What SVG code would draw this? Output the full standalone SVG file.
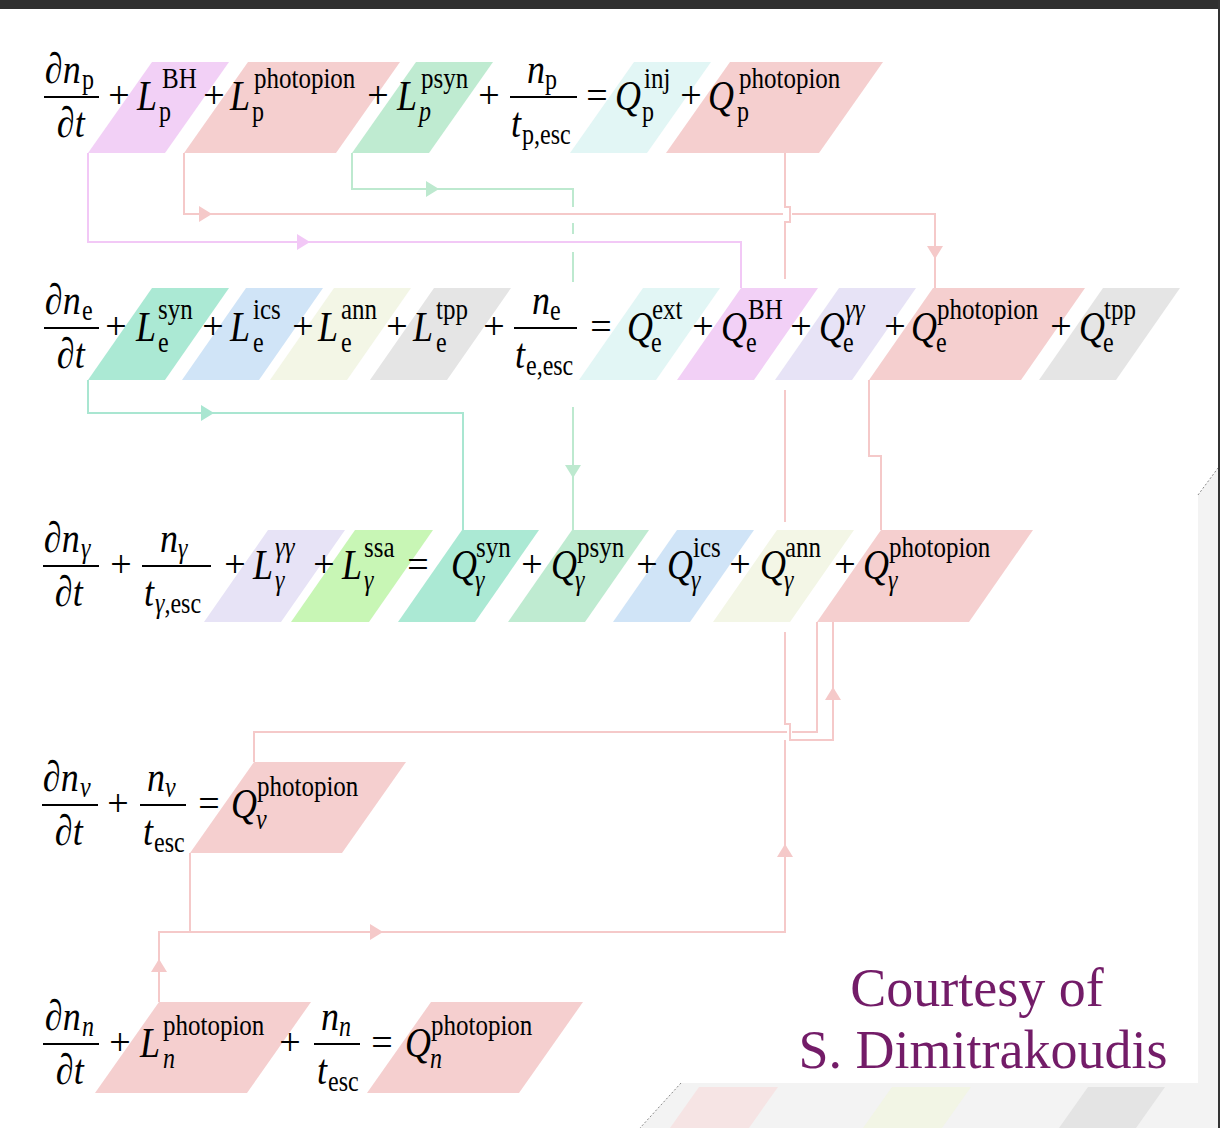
<svg xmlns="http://www.w3.org/2000/svg" xmlns:xlink="http://www.w3.org/1999/xlink" width="1220" height="1128" viewBox="0 0 1220 1128" font-family="Liberation Serif, serif">
  <style>
    .m { font-family: 'Liberation Serif', serif; font-size: 36px; font-style: italic; fill: #000; }
    .op { font-family: 'Liberation Serif', serif; font-size: 38px; font-style: normal; text-anchor: middle; fill: #000; }
    .s { font-family: 'Liberation Serif', serif; font-size: 25px; font-style: normal; }
    .si { font-family: 'Liberation Serif', serif; font-size: 25px; font-style: italic; }
    .b { font-family: 'Liberation Serif', serif; font-size: 24px; font-style: normal; }
    .bi { font-family: 'Liberation Serif', serif; font-size: 24px; font-style: italic; }
    .bar { stroke: #000; stroke-width: 2; }
    .credit { font-family: 'Liberation Serif', serif; font-size: 54px; fill: #731c68; text-anchor: middle; }
    .c-bh { fill: #f2d0f6; }
    .c-pp { fill: #f5cfcf; }
    .c-psyn { fill: #bfebd1; }
    .c-inj { fill: #e2f6f5; }
    .c-syn { fill: #abe9d4; }
    .c-ics { fill: #d0e4f7; }
    .c-ann { fill: #f3f6e6; }
    .c-tpp { fill: #e5e5e5; }
    .c-gg { fill: #e7e3f6; }
    .c-ssa { fill: #c8f6b5; }
    .k { fill: none; stroke-width: 2; }
    .k-pp { stroke: #f5c9c9; }
    .k-bh { stroke: #f2c8f6; }
    .k-psyn { stroke: #bde9cf; }
    .k-syn { stroke: #a9e6d1; }
    .a-pp { fill: #f5c9c9; }
    .a-bh { fill: #f2c8f6; }
    .a-psyn { fill: #bde9cf; }
    .a-syn { fill: #a9e6d1; }
  </style>
  <defs>
    <path id="ah" d="M-6,-8 L7,0 L-6,8 Z"/>
  </defs>

  <!-- slide background and frame -->
  <rect x="0" y="0" width="1220" height="1128" fill="#ffffff"/>
  <polygon points="1218,468 1198,495 1198,1083 681,1083 640,1128 1218,1128" fill="#f3f3f3"/>
  <polygon points="699,1087 778,1087 749,1128 670,1128" fill="#f6e4e4"/>
  <polygon points="892,1087 971,1087 942,1128 863,1128" fill="#f2f5e5"/>
  <polygon points="1088,1087 1165,1087 1136,1128 1059,1128" fill="#e4e4e4"/>
  <line x1="1198" y1="495" x2="1218" y2="468" stroke="#8a8a8a" stroke-width="1" stroke-dasharray="2,2"/>
  <line x1="681" y1="1083" x2="640" y2="1128" stroke="#8a8a8a" stroke-width="1" stroke-dasharray="2,2"/>
  <rect x="0" y="0" width="1220" height="9" fill="#2f2f2f"/>
  <rect x="1218" y="0" width="2" height="1128" fill="#333333"/>

  <!-- connectors -->
  <g id="connectors">
    <path class="k k-bh" d="M88,153 V242 H741 V288"/>
    <path class="k k-pp" d="M184,153 V214 H783 M792,214 H935 V288"/>
    <path class="k k-pp" d="M785,153 V207 H790 V222 H785 V279"/>
    <path class="k k-psyn" d="M352,153 V189 H573 V207 M573,223 V234 M573,252 V282 M573,407 V530"/>
    <path class="k k-syn" d="M88,380 V413 H463 V530"/>
    <path class="k k-pp" d="M869,380 V456 H881 V530"/>
    <path class="k k-pp" d="M785,390 V522 M785,632 V724 H790 V740 H833 V622"/>
    <path class="k k-pp" d="M785,740 V932 H159 V1002 M190,853 V932"/>
    <path class="k k-pp" d="M817,622 V732 H792 M787,732 H254 V762"/>
    <use xlink:href="#ah" class="a-bh" transform="translate(303,242)"/>
    <use xlink:href="#ah" class="a-pp" transform="translate(205,214)"/>
    <use xlink:href="#ah" class="a-pp" transform="translate(935,252) rotate(90)"/>
    <use xlink:href="#ah" class="a-psyn" transform="translate(432,189)"/>
    <use xlink:href="#ah" class="a-psyn" transform="translate(573,471) rotate(90)"/>
    <use xlink:href="#ah" class="a-syn" transform="translate(207,413)"/>
    <use xlink:href="#ah" class="a-pp" transform="translate(785,851) rotate(-90)"/>
    <use xlink:href="#ah" class="a-pp" transform="translate(833,694) rotate(-90)"/>
    <use xlink:href="#ah" class="a-pp" transform="translate(159,966) rotate(-90)"/>
    <use xlink:href="#ah" class="a-pp" transform="translate(376,932)"/>
  </g>

  <!-- proton terms -->
  <g id="Lp-BH">
    <polygon class="c-bh" points="88,153 165,153 229,62 152,62"/>
    <text class="m" transform="matrix(1 0 0 1.2 137 110)">L<tspan class="s" x="25" y="-18">BH</tspan><tspan class="b" x="22" y="9.5">p</tspan></text>
  </g>
  <g id="Lp-photopion">
    <polygon class="c-pp" points="184,153 336,153 400,62 248,62"/>
    <text class="m" transform="matrix(1 0 0 1.2 230 110)">L<tspan class="s" x="24" y="-18">photopion</tspan><tspan class="b" x="22" y="9.5">p</tspan></text>
  </g>
  <g id="Lp-psyn">
    <polygon class="c-psyn" points="352,153 429,153 493,62 416,62"/>
    <text class="m" transform="matrix(1 0 0 1.2 397 110)">L<tspan class="s" x="24" y="-18">psyn</tspan><tspan class="bi" x="22" y="9.5">p</tspan></text>
  </g>
  <g id="Qp-inj">
    <polygon class="c-inj" points="570,153 647,153 711,62 634,62"/>
    <text class="m" transform="matrix(1 0 0 1.2 615 110)">Q<tspan class="s" x="29" y="-18">inj</tspan><tspan class="b" x="27" y="9.5">p</tspan></text>
  </g>
  <g id="Qp-photopion">
    <polygon class="c-pp" points="666,153 819,153 883,62 730,62"/>
    <text class="m" transform="matrix(1 0 0 1.2 708 110)">Q<tspan class="s" x="31" y="-18">photopion</tspan><tspan class="b" x="29" y="9.5">p</tspan></text>
  </g>

  <!-- electron terms -->
  <g id="Le-syn">
    <polygon class="c-syn" points="88,380 165,380 229,288 152,288"/>
    <text class="m" transform="matrix(1 0 0 1.2 136 341)">L<tspan class="s" x="22" y="-18">syn</tspan><tspan class="b" x="22" y="9.5">e</tspan></text>
  </g>
  <g id="Le-ics">
    <polygon class="c-ics" points="182,380 259,380 323,288 246,288"/>
    <text class="m" transform="matrix(1 0 0 1.2 230 341)">L<tspan class="s" x="23" y="-18">ics</tspan><tspan class="b" x="23" y="9.5">e</tspan></text>
  </g>
  <g id="Le-ann">
    <polygon class="c-ann" points="270,380 347,380 411,288 334,288"/>
    <text class="m" transform="matrix(1 0 0 1.2 318 341)">L<tspan class="s" x="23" y="-18">ann</tspan><tspan class="b" x="23" y="9.5">e</tspan></text>
  </g>
  <g id="Le-tpp">
    <polygon class="c-tpp" points="370,380 447,380 511,288 434,288"/>
    <text class="m" transform="matrix(1 0 0 1.2 413 341)">L<tspan class="s" x="23" y="-18">tpp</tspan><tspan class="b" x="23" y="9.5">e</tspan></text>
  </g>
  <g id="Qe-ext">
    <polygon class="c-inj" points="579,380 656,380 720,288 643,288"/>
    <text class="m" transform="matrix(1 0 0 1.2 627 341)">Q<tspan class="s" x="25" y="-18">ext</tspan><tspan class="b" x="24" y="9.5">e</tspan></text>
  </g>
  <g id="Qe-BH">
    <polygon class="c-bh" points="677,380 754,380 818,288 741,288"/>
    <text class="m" transform="matrix(1 0 0 1.2 721 341)">Q<tspan class="s" x="27" y="-18">BH</tspan><tspan class="b" x="25" y="9.5">e</tspan></text>
  </g>
  <g id="Qe-gg">
    <polygon class="c-gg" points="775,380 852,380 916,288 839,288"/>
    <text class="m" transform="matrix(1 0 0 1.2 819 341)">Q<tspan class="si" x="26" y="-18">γγ</tspan><tspan class="b" x="24" y="9.5">e</tspan></text>
  </g>
  <g id="Qe-photopion">
    <polygon class="c-pp" points="869,380 1021,380 1085,288 933,288"/>
    <text class="m" transform="matrix(1 0 0 1.2 911 341)">Q<tspan class="s" x="26" y="-18">photopion</tspan><tspan class="b" x="25" y="9.5">e</tspan></text>
  </g>
  <g id="Qe-tpp">
    <polygon class="c-tpp" points="1039,380 1116,380 1180,288 1103,288"/>
    <text class="m" transform="matrix(1 0 0 1.2 1079 341)">Q<tspan class="s" x="25" y="-18">tpp</tspan><tspan class="b" x="24" y="9.5">e</tspan></text>
  </g>

  <!-- photon terms -->
  <g id="Lg-gg">
    <polygon class="c-gg" points="204,622 281,622 345,530 268,530"/>
    <text class="m" transform="matrix(1 0 0 1.2 253 579)">L<tspan class="si" x="22" y="-18">γγ</tspan><tspan class="bi" x="22" y="9.5">γ</tspan></text>
  </g>
  <g id="Lg-ssa">
    <polygon class="c-ssa" points="291,622 369,622 433,530 355,530"/>
    <text class="m" transform="matrix(1 0 0 1.2 342 579)">L<tspan class="s" x="22" y="-18">ssa</tspan><tspan class="bi" x="22" y="9.5">γ</tspan></text>
  </g>
  <g id="Qg-syn">
    <polygon class="c-syn" points="398,622 475,622 539,530 462,530"/>
    <text class="m" transform="matrix(1 0 0 1.2 451 579)">Q<tspan class="s" x="25" y="-18">syn</tspan><tspan class="bi" x="24" y="9.5">γ</tspan></text>
  </g>
  <g id="Qg-psyn">
    <polygon class="c-psyn" points="508,622 585,622 649,530 572,530"/>
    <text class="m" transform="matrix(1 0 0 1.2 551 579)">Q<tspan class="s" x="26" y="-18">psyn</tspan><tspan class="bi" x="24" y="9.5">γ</tspan></text>
  </g>
  <g id="Qg-ics">
    <polygon class="c-ics" points="613,622 690,622 754,530 677,530"/>
    <text class="m" transform="matrix(1 0 0 1.2 667 579)">Q<tspan class="s" x="26" y="-18">ics</tspan><tspan class="bi" x="24" y="9.5">γ</tspan></text>
  </g>
  <g id="Qg-ann">
    <polygon class="c-ann" points="713,622 790,622 854,530 777,530"/>
    <text class="m" transform="matrix(1 0 0 1.2 760 579)">Q<tspan class="s" x="25" y="-18">ann</tspan><tspan class="bi" x="24" y="9.5">γ</tspan></text>
  </g>
  <g id="Qg-photopion">
    <polygon class="c-pp" points="817,622 969,622 1033,530 881,530"/>
    <text class="m" transform="matrix(1 0 0 1.2 863 579)">Q<tspan class="s" x="26" y="-18">photopion</tspan><tspan class="bi" x="25" y="9.5">γ</tspan></text>
  </g>

  <!-- neutrino and neutron terms -->
  <g id="Qnu-photopion">
    <polygon class="c-pp" points="190,853 342,853 406,762 254,762"/>
    <text class="m" transform="matrix(1 0 0 1.2 231 818)">Q<tspan class="s" x="26" y="-18">photopion</tspan><tspan class="bi" x="25" y="9.5">ν</tspan></text>
  </g>
  <g id="Ln-photopion">
    <polygon class="c-pp" points="95,1093 247,1093 311,1002 159,1002"/>
    <text class="m" transform="matrix(1 0 0 1.2 140 1057)">L<tspan class="s" x="23" y="-18">photopion</tspan><tspan class="bi" x="23" y="9.5">n</tspan></text>
  </g>
  <g id="Qn-photopion">
    <polygon class="c-pp" points="367,1093 519,1093 583,1002 431,1002"/>
    <text class="m" transform="matrix(1 0 0 1.2 405 1057)">Q<tspan class="s" x="26" y="-18">photopion</tspan><tspan class="bi" x="25" y="9.5">n</tspan></text>
  </g>

  <!-- operators and fractions of each equation, drawn over the shaded terms -->
  <g id="eq-p">
    <text class="m" transform="matrix(1 0 0 1.2 45 83)">∂n<tspan class="b" x="37" y="5">p</tspan></text>
    <line class="bar" x1="44" y1="97" x2="99" y2="97"/>
    <text class="m" transform="matrix(1 0 0 1.2 57 137)">∂t</text>
    <text class="op" x="119" y="108">+</text>
    <text class="op" x="214" y="108">+</text>
    <text class="op" x="378" y="108">+</text>
    <text class="op" x="489" y="108">+</text>
    <text class="m" transform="matrix(1 0 0 1.2 527 83)">n<tspan class="b" x="18" y="5">p</tspan></text>
    <line class="bar" x1="510" y1="97" x2="577" y2="97"/>
    <text class="m" transform="matrix(1 0 0 1.2 511 137)">t<tspan class="b" x="11" y="6">p,esc</tspan></text>
    <text class="op" x="597" y="108">=</text>
    <text class="op" x="691" y="108">+</text>
  </g>
  <g id="eq-e">
    <text class="m" transform="matrix(1 0 0 1.2 45 314)">∂n<tspan class="b" x="37" y="5">e</tspan></text>
    <line class="bar" x1="44" y1="328" x2="99" y2="328"/>
    <text class="m" transform="matrix(1 0 0 1.2 57 368)">∂t</text>
    <text class="op" x="116" y="339">+</text>
    <text class="op" x="213" y="339">+</text>
    <text class="op" x="303" y="339">+</text>
    <text class="op" x="397" y="339">+</text>
    <text class="op" x="494" y="339">+</text>
    <text class="m" transform="matrix(1 0 0 1.2 532 314)">n<tspan class="b" x="18" y="5">e</tspan></text>
    <line class="bar" x1="514" y1="328" x2="577" y2="328"/>
    <text class="m" transform="matrix(1 0 0 1.2 515 368)">t<tspan class="b" x="11" y="6">e,esc</tspan></text>
    <text class="op" x="601" y="339">=</text>
    <text class="op" x="703" y="339">+</text>
    <text class="op" x="801" y="339">+</text>
    <text class="op" x="895" y="339">+</text>
    <text class="op" x="1061" y="339">+</text>
  </g>
  <g id="eq-gamma">
    <text class="m" transform="matrix(1 0 0 1.2 44 552)">∂n<tspan class="bi" x="37" y="5">γ</tspan></text>
    <line class="bar" x1="43" y1="566" x2="99" y2="566"/>
    <text class="m" transform="matrix(1 0 0 1.2 55 606)">∂t</text>
    <text class="op" x="121" y="577">+</text>
    <text class="m" transform="matrix(1 0 0 1.2 160 552)">n<tspan class="bi" x="18" y="5">γ</tspan></text>
    <line class="bar" x1="142" y1="566" x2="211" y2="566"/>
    <text class="m" transform="matrix(1 0 0 1.2 144 606)">t<tspan class="bi" x="11" y="6">γ</tspan><tspan class="b">,esc</tspan></text>
    <text class="op" x="235" y="577">+</text>
    <text class="op" x="324" y="577">+</text>
    <text class="op" x="418" y="577">=</text>
    <text class="op" x="532" y="577">+</text>
    <text class="op" x="647" y="577">+</text>
    <text class="op" x="740" y="577">+</text>
    <text class="op" x="845" y="577">+</text>
  </g>
  <g id="eq-nu">
    <text class="m" transform="matrix(1 0 0 1.2 43 791)">∂n<tspan class="bi" x="37" y="5">ν</tspan></text>
    <line class="bar" x1="42" y1="805" x2="98" y2="805"/>
    <text class="m" transform="matrix(1 0 0 1.2 55 845)">∂t</text>
    <text class="op" x="118" y="816">+</text>
    <text class="m" transform="matrix(1 0 0 1.2 147 791)">n<tspan class="bi" x="18" y="5">ν</tspan></text>
    <line class="bar" x1="140" y1="805" x2="186" y2="805"/>
    <text class="m" transform="matrix(1 0 0 1.2 143 845)">t<tspan class="b" x="11" y="6">esc</tspan></text>
    <text class="op" x="209" y="816">=</text>
  </g>
  <g id="eq-n">
    <text class="m" transform="matrix(1 0 0 1.2 45 1030)">∂n<tspan class="bi" x="37" y="5">n</tspan></text>
    <line class="bar" x1="43" y1="1044" x2="99" y2="1044"/>
    <text class="m" transform="matrix(1 0 0 1.2 56 1084)">∂t</text>
    <text class="op" x="120" y="1055">+</text>
    <text class="op" x="290" y="1055">+</text>
    <text class="m" transform="matrix(1 0 0 1.2 321 1030)">n<tspan class="bi" x="18" y="5">n</tspan></text>
    <line class="bar" x1="314" y1="1044" x2="360" y2="1044"/>
    <text class="m" transform="matrix(1 0 0 1.2 317 1084)">t<tspan class="b" x="11" y="6">esc</tspan></text>
    <text class="op" x="382" y="1055">=</text>
  </g>

  <!-- credit -->
  <text class="credit" x="977" y="1006">Courtesy of</text>
  <text class="credit" x="983" y="1068">S. Dimitrakoudis</text>
</svg>
